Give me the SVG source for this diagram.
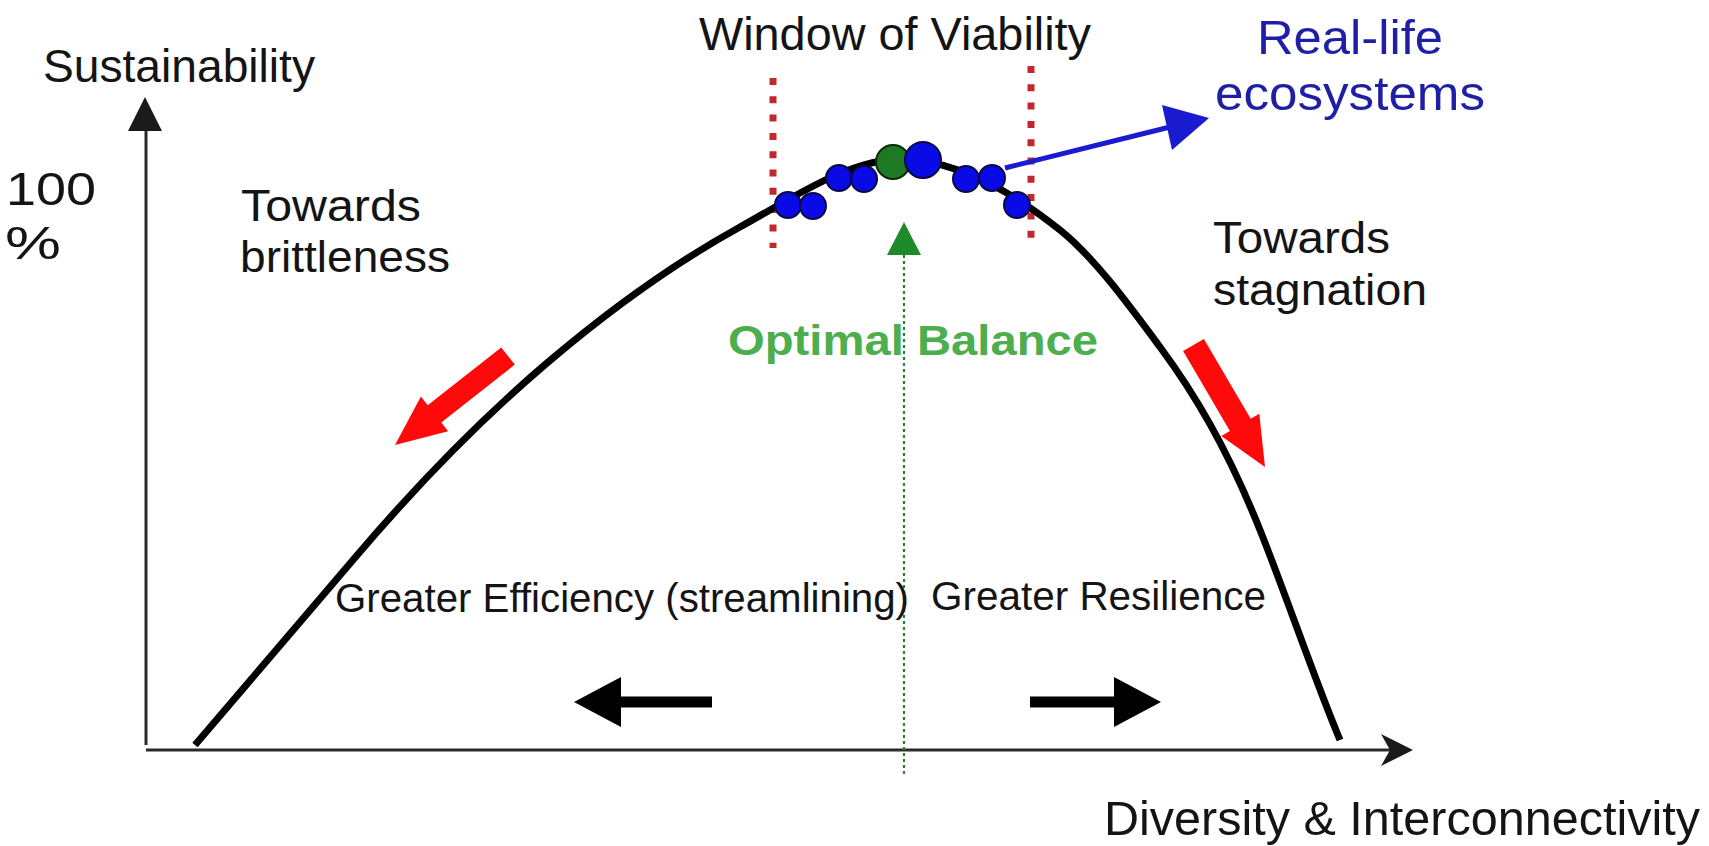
<svg xmlns="http://www.w3.org/2000/svg" width="1709" height="846" viewBox="0 0 1709 846">
<style>
text{font-family:"Liberation Sans",Arial,sans-serif;fill:#141414}
.blue{fill:#1f1fa6}
.green{fill:#4cae4c;font-weight:bold}
.dot{stroke:#c0282d;stroke-width:7;stroke-dasharray:7 11.3;fill:none}
.eco{fill:#0a0ae6;stroke:#0a0a40;stroke-width:2}
.red{fill:#ff0a0a}
.blk{fill:#000}
.axis{stroke:#2a2a2a;stroke-width:3;fill:none}
</style>
<rect width="1709" height="846" fill="#fff"/>
<g id="window-lines">
<line class="dot" x1="773" y1="78" x2="773" y2="248"/>
<line class="dot" x1="1031" y1="66" x2="1031" y2="240"/>
</g>
<g id="axes">
<line class="axis" x1="146" y1="745" x2="146" y2="125"/>
<polygon points="145,97 128,131 162,131" fill="#1a1a1a"/>
<line class="axis" x1="146" y1="750" x2="1395" y2="750"/>
<polygon points="1413,750 1381,734 1390,750 1381,766" fill="#1a1a1a"/>
</g>
<g id="optimal-line">
<line x1="904" y1="255" x2="904" y2="775" stroke="#2e7d32" stroke-width="2.2" stroke-dasharray="3 3"/>
<polygon points="904,222 887,255 921,255" fill="#1f8a2a"/>
</g>
<g id="curve">
<path d="M195,745 C247.67,682.85 300.33,622.15 353,560 C417.67,483.7 482.33,417.97 547,363 C611.33,308.32 675.67,262.38 740,227 C794.3,197.1 848.7,159 903,159 C955,161 1007.7,188 1060,230 C1093.3,256.7 1126.7,302 1160,347 C1193.3,392 1226.7,446.7 1260,530 C1286.7,596.7 1313.3,676 1340,740" fill="none" stroke="#000" stroke-width="7" stroke-linecap="butt"/>
</g>
<g id="ecosystems">
<circle class="eco" cx="788" cy="205" r="13"/>
<circle class="eco" cx="813" cy="206" r="13"/>
<circle class="eco" cx="839" cy="178" r="13"/>
<circle class="eco" cx="864" cy="179" r="13"/>
<circle cx="893" cy="162" r="17" fill="#1e7a22" stroke="#0a2a0a" stroke-width="2"/>
<circle class="eco" cx="923" cy="160" r="18"/>
<circle class="eco" cx="966" cy="179" r="13"/>
<circle class="eco" cx="992" cy="178" r="13"/>
<circle class="eco" cx="1017" cy="205" r="13"/>
</g>
<g id="connectors">
<line x1="1005" y1="168" x2="1170" y2="127" stroke="#1a1ad0" stroke-width="5"/>
<polygon points="1209,118 1162,105 1172,150" fill="#1a1ad0"/>
<polygon class="red" points="501.2,347.4 514.8,364.6 441.3,422.5 448.1,431.2 395,445 420.9,396.6 427.7,405.3"/>
<polygon class="red" points="1183.1,351.1 1203.9,338.9 1250.7,418.7 1259.3,413.7 1265,467 1221.3,435.9 1229.9,430.9"/>
<polygon class="blk" points="574,702 621,677 621,696.5 712,696.5 712,707.5 621,707.5 621,727"/>
<polygon class="blk" points="1161,702 1114,677 1114,696.5 1030,696.5 1030,707.5 1114,707.5 1114,727"/>
</g>
<g id="labels">
<text x="43" y="82" font-size="46" textLength="272" lengthAdjust="spacingAndGlyphs">Sustainability</text>
<text x="6" y="205" font-size="46" textLength="90" lengthAdjust="spacingAndGlyphs">100</text>
<text x="5" y="259" font-size="46" textLength="56" lengthAdjust="spacingAndGlyphs">%</text>
<text x="241" y="221" font-size="45" textLength="180" lengthAdjust="spacingAndGlyphs">Towards</text>
<text x="240" y="272" font-size="45" textLength="210" lengthAdjust="spacingAndGlyphs">brittleness</text>
<text x="1213" y="253" font-size="45" textLength="177" lengthAdjust="spacingAndGlyphs">Towards</text>
<text x="1213" y="305" font-size="45" textLength="214" lengthAdjust="spacingAndGlyphs">stagnation</text>
<text x="699" y="50" font-size="46" textLength="392" lengthAdjust="spacingAndGlyphs">Window of Viability</text>
<text class="blue" x="1257" y="54" font-size="48" textLength="186" lengthAdjust="spacingAndGlyphs">Real-life</text>
<text class="blue" x="1215" y="110" font-size="48" textLength="270" lengthAdjust="spacingAndGlyphs">ecosystems</text>
<text class="green" x="728" y="355" font-size="42" textLength="370" lengthAdjust="spacingAndGlyphs">Optimal Balance</text>
<text x="335" y="612" font-size="40" textLength="574" lengthAdjust="spacingAndGlyphs">Greater Efficiency (streamlining)</text>
<text x="931" y="610" font-size="40" textLength="335" lengthAdjust="spacingAndGlyphs">Greater Resilience</text>
<text x="1104" y="835" font-size="48" textLength="596" lengthAdjust="spacingAndGlyphs">Diversity &amp; Interconnectivity</text>
</g>
</svg>
